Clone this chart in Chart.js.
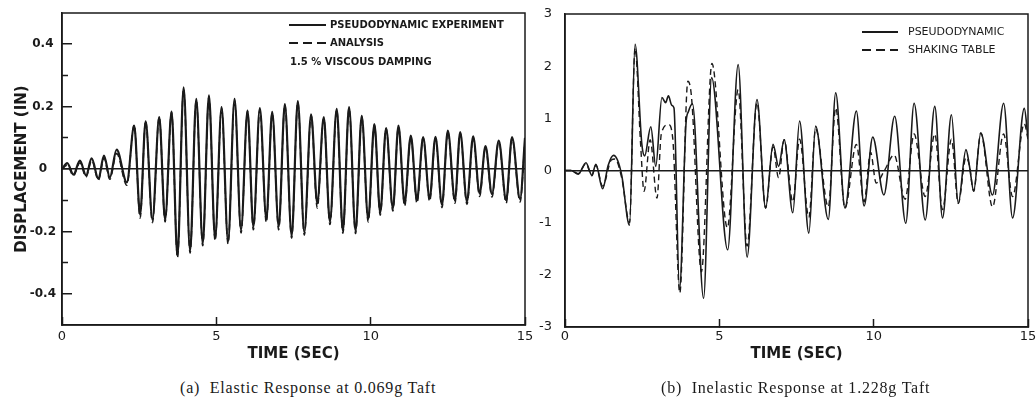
<!DOCTYPE html>
<html>
<head>
<meta charset="utf-8">
<script src="https://cdn.jsdelivr.net/npm/chart.js@4.4.1/dist/chart.umd.min.js"></script>
<style>
html,body{margin:0;padding:0;background:#fff;overflow:hidden;width:1036px;height:412px;position:relative;}
canvas{position:absolute;top:0;}
#cL{left:0;}
#cR{left:530px;}
.t{position:absolute;white-space:nowrap;color:#1a1a1a;line-height:12px;}
.lgb{font-family:'DejaVu Sans',sans-serif;font-weight:bold;font-size:10px;}
.lgr{font-family:'DejaVu Sans',sans-serif;font-size:11px;}
.ln{position:absolute;height:1.5px;background:#1a1a1a;}
.dl{position:absolute;height:1.5px;background:repeating-linear-gradient(to right,#1a1a1a 0 9px,transparent 9px 13.8px);}
.cap{position:absolute;white-space:nowrap;font-family:'Liberation Serif',serif;font-size:16px;letter-spacing:0.8px;line-height:20px;color:#1a1a1a;top:378px;}
</style>
</head>
<body>
<canvas id="cL" width="545" height="370"></canvas>
<canvas id="cR" width="520" height="370"></canvas>

<div class="ln" style="left:289px;top:24px;width:37px;"></div>
<div class="t lgb" style="left:330px;top:19px;">PSEUDODYNAMIC EXPERIMENT</div>
<div class="dl" style="left:289px;top:42px;width:38px;"></div>
<div class="t lgb" style="left:330px;top:37px;">ANALYSIS</div>
<div class="t lgb" style="left:290px;top:56px;">1.5 % VISCOUS DAMPING</div>

<div class="ln" style="left:862px;top:31px;width:36px;"></div>
<div class="t lgr" style="left:908px;top:26px;">PSEUDODYNAMIC</div>
<div class="dl" style="left:862px;top:49px;width:36px;"></div>
<div class="t lgr" style="left:908px;top:44px;">SHAKING TABLE</div>

<div class="cap" style="left:180px;">(a)&nbsp; Elastic Response at 0.069g Taft</div>
<div class="cap" style="left:661px;">(b)&nbsp; Inelastic Response at 1.228g Taft</div>

<script>
// ---- data ----
const leftTime = [0, 0.17, 0.37, 0.58, 0.78, 0.96, 1.18, 1.36, 1.55, 1.77, 2.1, 2.34, 2.53, 2.71, 2.93, 3.15, 3.34, 3.55, 3.74, 3.94, 4.15, 4.35, 4.56, 4.76, 4.96, 5.17, 5.38, 5.59, 5.8, 6.01, 6.2, 6.41, 6.62, 6.81, 7.02, 7.22, 7.44, 7.64, 7.85, 8.07, 8.27, 8.48, 8.68, 8.9, 9.1, 9.3, 9.51, 9.71, 9.92, 10.12, 10.31, 10.5, 10.72, 10.9, 11.1, 11.3, 11.5, 11.7, 11.91, 12.1, 12.31, 12.5, 12.73, 12.9, 13.12, 13.32, 13.53, 13.72, 13.93, 14.15, 14.39, 14.58, 14.84, 15];
const leftExperiment = [0, 0.019, -0.018, 0.027, -0.021, 0.034, -0.032, 0.043, -0.027, 0.062, -0.043, 0.139, -0.146, 0.153, -0.162, 0.166, -0.162, 0.184, -0.278, 0.262, -0.262, 0.225, -0.238, 0.236, -0.222, 0.198, -0.232, 0.225, -0.195, 0.187, -0.185, 0.195, -0.16, 0.183, -0.185, 0.208, -0.214, 0.218, -0.203, 0.175, -0.11, 0.166, -0.168, 0.193, -0.198, 0.198, -0.198, 0.17, -0.16, 0.144, -0.14, 0.131, -0.126, 0.139, -0.11, 0.107, -0.1, 0.102, -0.094, 0.103, -0.115, 0.123, -0.1, 0.118, -0.104, 0.105, -0.078, 0.073, -0.08, 0.091, -0.1, 0.102, -0.096, 0.1];
const leftAnalysis = [0, 0.012, -0.022, 0.02, -0.026, 0.028, -0.036, 0.035, -0.033, 0.05, -0.052, 0.142, -0.158, 0.155, -0.172, 0.168, -0.17, 0.182, -0.285, 0.258, -0.27, 0.222, -0.246, 0.232, -0.23, 0.195, -0.24, 0.22, -0.205, 0.185, -0.195, 0.19, -0.172, 0.18, -0.195, 0.205, -0.222, 0.214, -0.212, 0.172, -0.125, 0.163, -0.178, 0.19, -0.206, 0.195, -0.207, 0.168, -0.17, 0.142, -0.148, 0.13, -0.135, 0.136, -0.12, 0.105, -0.11, 0.1, -0.104, 0.1, -0.124, 0.12, -0.11, 0.115, -0.114, 0.102, -0.088, 0.07, -0.09, 0.088, -0.11, 0.1, -0.106, 0.095];

const rightTimeA = [0, 0.2, 0.43, 0.68, 0.87, 1.0, 1.22, 1.4, 1.57, 1.7, 1.84, 2.09, 2.27, 2.49, 2.58, 2.78, 2.94, 3.14, 3.26, 3.35, 3.46, 3.53, 3.71, 3.92, 4.0, 4.13, 4.49, 4.75, 5.27, 5.61, 5.9, 6.22, 6.5, 6.74, 6.92, 7.1, 7.38, 7.6, 7.9, 8.12, 8.53, 8.77, 9.07, 9.44, 9.69, 9.97, 10.33, 10.68, 11.04, 11.31, 11.67, 11.98, 12.23, 12.52, 12.74, 12.99, 13.1, 13.24, 13.47, 13.85, 14.21, 14.5, 14.88, 15];
const rightPseudo = [0, 0, -0.07, 0.15, -0.09, 0.12, -0.35, 0.1, 0.29, 0.2, -0.1, -1.05, 2.42, 0.5, 0.28, 0.84, 0.08, 1.4, 1.3, 1.43, 1.25, 1.2, -2.28, 0.9, 1.13, 1.28, -2.45, 1.78, -1.52, 2.03, -1.66, 1.36, -0.72, 0.5, 0.08, 0.59, -0.81, 0.95, -1.2, 0.85, -0.94, 1.49, -0.72, 1.14, -0.68, 0.64, -0.47, 1.04, -1.01, 1.29, -0.95, 1.23, -0.91, 1.07, -0.63, 0.4, 0.1, -0.39, 0.72, -0.47, 1.29, -0.91, 1.19, 0.62];
const rightTimeB = [0, 0.2, 0.43, 0.68, 0.87, 1.0, 1.22, 1.5, 1.62, 1.84, 2.09, 2.27, 2.45, 2.56, 2.76, 2.98, 3.12, 3.35, 3.49, 3.72, 3.98, 4.1, 4.42, 4.76, 5.26, 5.61, 5.9, 6.22, 6.5, 6.74, 6.92, 7.1, 7.38, 7.6, 7.9, 8.12, 8.53, 8.77, 9.07, 9.44, 9.69, 9.9, 10.08, 10.35, 10.66, 11.02, 11.31, 11.67, 11.98, 12.23, 12.52, 12.74, 12.99, 13.1, 13.24, 13.47, 13.85, 14.21, 14.5, 14.88, 15];
const rightShaking = [0, 0, -0.06, 0.13, -0.1, 0.1, -0.3, 0.2, 0.22, -0.15, -1.0, 2.35, 0.5, -0.4, 0.59, -0.53, 0.7, 0.88, 0.62, -2.35, 1.71, 1.4, -1.94, 2.05, -1.1, 1.55, -1.45, 1.3, -0.72, 0.45, -0.14, 0.59, -0.6, 0.6, -0.9, 0.8, -0.7, 1.2, -0.72, 0.5, -0.6, 0.35, -0.24, 0.0, 0.3, -0.55, 0.7, -0.5, 0.7, -0.75, 0.6, -0.63, 0.25, 0.1, -0.4, 0.72, -0.7, 0.7, -0.5, 0.9, 0.6];

const xTickValues = [0, 5, 10, 15];
const xTickLabels = ['0', '5', '10', '15'];
const leftYTickValues = [-0.4, -0.2, 0, 0.2, 0.4];
const leftYTickLabels = ['-0.4', '-0.2', '0', '0.2', '0.4'];
const leftYMinorValues = [-0.3, -0.1, 0.1, 0.3];
const rightYTickValues = [-3, -2, -1, 0, 1, 2, 3];
const rightYTickLabels = ['-3', '-2', '-1', '0', '1', '2', '3'];

// ---- drawing ----
const INK = '#1a1a1a';
Chart.defaults.font.family = "'DejaVu Sans', sans-serif";
Chart.defaults.color = INK;

function pts(t, v) { return t.map((x, i) => ({ x: x, y: v[i] })); }
function setTicks(vals) { return function (scale) { scale.ticks = vals.map(v => ({ value: v })); }; }
function fixW(w) { return function (s) { s.width = w; s.paddingTop = 0; s.paddingBottom = 0; }; }
function fixH(h) { return function (s) { s.height = h; s.paddingLeft = 0; s.paddingRight = 0; }; }
const zeroOnly = ctx => (ctx.tick && ctx.tick.value === 0) ? INK : 'rgba(0,0,0,0)';
const frame = {
  id: 'frame',
  afterDatasetsDraw(chart) {
    const a = chart.chartArea, c = chart.ctx;
    c.save(); c.strokeStyle = INK; c.lineWidth = 1.5;
    c.strokeRect(a.left, a.top, a.right - a.left, a.bottom - a.top);
    c.restore();
  }
};
function lineDs(label, data, width, dash) {
  return { label: label, data: data, borderColor: INK, borderWidth: width, borderDash: dash,
           pointRadius: 0, cubicInterpolationMode: 'monotone', fill: false };
}

new Chart(document.getElementById('cL'), {
  type: 'line',
  data: { datasets: [
    lineDs('PSEUDODYNAMIC EXPERIMENT', pts(leftTime, leftExperiment), 2.2, []),
    lineDs('ANALYSIS', pts(leftTime, leftAnalysis), 1.5, [6, 4])
  ]},
  options: {
    responsive: false, animation: false, events: [],
    layout: { padding: { top: 13, right: 20, left: 0, bottom: 0 } },
    plugins: { legend: { display: false }, tooltip: { enabled: false } },
    scales: {
      x: { type: 'linear', min: 0, max: 15, afterBuildTicks: setTicks(xTickValues), afterFit: fixH(45),
        ticks: { callback: (v, i) => xTickLabels[i], padding: 12, font: { size: 13 }, maxRotation: 0, autoSkip: false },
        grid: { color: 'rgba(0,0,0,0)', tickColor: INK, tickLength: -8, tickWidth: 1.5 },
        border: { color: INK, width: 1.5 },
        title: { display: true, text: 'TIME (SEC)', font: { size: 15, weight: 'bold' }, padding: { top: 0, bottom: 7 } } },
      y: { type: 'linear', position: 'left', weight: 1, min: -0.5, max: 0.5, afterBuildTicks: setTicks(leftYTickValues), afterFit: fixW(62),
        ticks: { callback: (v, i) => leftYTickLabels[i], padding: 16, crossAlign: 'center', font: { size: 12, weight: 'bold' }, autoSkip: false },
        grid: { color: zeroOnly, lineWidth: 1.5, tickColor: INK, tickLength: -10, tickWidth: 1.5 },
        border: { color: INK, width: 1.5 },
        title: { display: true, text: 'DISPLACEMENT (IN)', font: { size: 15, weight: 'bold' }, padding: { top: 13, bottom: 0 } } },
      yMinor: { type: 'linear', position: 'left', weight: 0, min: -0.5, max: 0.5, afterBuildTicks: setTicks(leftYMinorValues), afterFit: fixW(0),
        ticks: { display: false },
        grid: { drawOnChartArea: false, tickColor: INK, tickLength: -6, tickWidth: 1.5 },
        border: { display: false } }
    }
  },
  plugins: [frame]
});

new Chart(document.getElementById('cR'), {
  type: 'line',
  data: { datasets: [
    lineDs('PSEUDODYNAMIC', pts(rightTimeA, rightPseudo), 1.6, []),
    lineDs('SHAKING TABLE', pts(rightTimeB, rightShaking), 1.4, [6, 4])
  ]},
  options: {
    responsive: false, animation: false, events: [],
    layout: { padding: { top: 14, right: 22, left: 0, bottom: 0 } },
    plugins: { legend: { display: false }, tooltip: { enabled: false } },
    scales: {
      x: { type: 'linear', min: 0, max: 15, afterBuildTicks: setTicks(xTickValues), afterFit: fixH(43),
        ticks: { callback: (v, i) => xTickLabels[i], padding: 10, font: { size: 13 }, maxRotation: 0, autoSkip: false },
        grid: { color: 'rgba(0,0,0,0)', tickColor: INK, tickLength: -8, tickWidth: 1.5 },
        border: { color: INK, width: 1.5 },
        title: { display: true, text: 'TIME (SEC)', font: { size: 15, weight: 'bold' }, padding: { top: 0, bottom: 7 } } },
      y: { type: 'linear', position: 'left', min: -3, max: 3, afterBuildTicks: setTicks(rightYTickValues), afterFit: fixW(35),
        ticks: { callback: (v, i) => rightYTickLabels[i], padding: 13, font: { size: 13 }, autoSkip: false },
        grid: { color: zeroOnly, lineWidth: 1.5, drawTicks: false },
        border: { color: INK, width: 1.5 } }
    }
  },
  plugins: [frame]
});
</script>
</body>
</html>
